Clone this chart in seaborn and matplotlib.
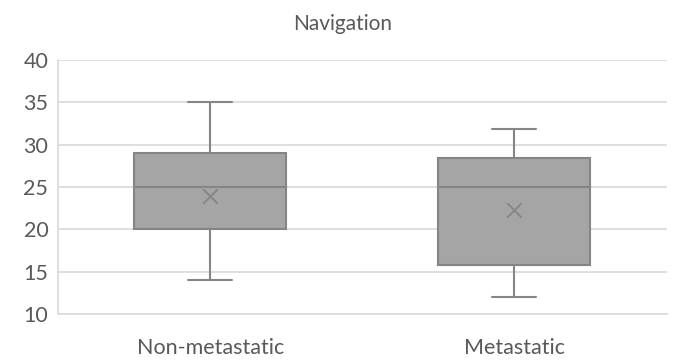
import matplotlib
matplotlib.use("Agg")
import matplotlib.pyplot as plt
import seaborn as sns
import pandas as pd

categories = ["Non-metastatic", "Metastatic"]
# five-number summaries (min, Q1, median, Q3, max)
non_metastatic = [14, 20, 25, 29.0, 35]
metastatic = [12, 15.8, 25, 28.4, 31.8]
means = [23.9, 22.3]
y_ticks = [10, 15, 20, 25, 30, 35, 40]

df = pd.DataFrame({
    "group": [categories[0]] * len(non_metastatic) + [categories[1]] * len(metastatic),
    "value": non_metastatic + metastatic,
})
mean_df = pd.DataFrame({"group": categories, "mean": means})

sns.set_theme(style="white")
plt.rcParams["font.family"] = ["Lato", "DejaVu Sans"]

fig = plt.figure(figsize=(6.76, 3.6), dpi=100)
ax = fig.add_axes([0.0858, 0.128, 0.9002, 0.705])

edge = "#858585"
sns.boxplot(data=df, x="group", y="value", order=categories, ax=ax,
            width=0.5, color="#A5A5A5", saturation=1, whis=10,
            linecolor=edge, linewidth=1.5,
            boxprops=dict(facecolor="#A5A5A5", edgecolor=edge),
            capprops=dict(color=edge), whiskerprops=dict(color=edge),
            medianprops=dict(color=edge),
            showfliers=False, zorder=3)
# shrink caps to Excel-like width
for line in ax.lines:
    xd = line.get_xdata()
    if len(xd) == 2 and xd[0] != xd[1]:
        yd = line.get_ydata()
        if yd[0] == yd[1]:
            c = (xd[0] + xd[1]) / 2
            w = abs(xd[1] - xd[0])
            if w < 0.4:  # caps
                line.set_xdata([c - 0.072, c + 0.072])

sns.scatterplot(data=mean_df, x="group", y="mean", marker="x", s=110,
                color=edge, linewidth=1.3, ax=ax, zorder=4)

ax.set_ylim(10, 40)
ax.set_xlim(-0.5, 1.5)
ax.set_yticks(y_ticks)
ax.yaxis.grid(True, color="#D9D9D9", linewidth=1.2)
ax.set_axisbelow(True)
for s in ["top", "right"]:
    ax.spines[s].set_visible(False)
ax.spines["left"].set_color("#D9D9D9")
ax.spines["bottom"].set_color("#D9D9D9")
ax.spines["left"].set_linewidth(1.2)
ax.spines["bottom"].set_linewidth(1.2)
ax.tick_params(axis="both", length=0, labelsize=15.5, colors="#595959")
ax.tick_params(axis="x", pad=17)
ax.tick_params(axis="y", pad=7)
ax.set_xlabel("")
ax.set_ylabel("")
fig.suptitle("Navigation", fontsize=15, color="#595959", x=0.507, y=0.933, va="center")

fig.savefig("out.png", dpi=100)
